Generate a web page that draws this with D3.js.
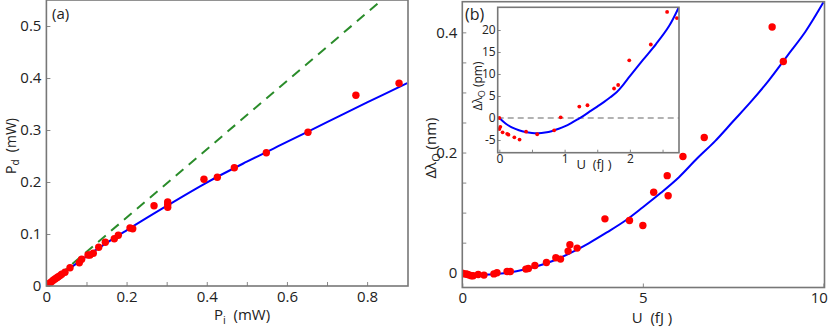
<!DOCTYPE html>
<html><head><meta charset="utf-8">
<script src="https://cdn.jsdelivr.net/npm/d3@7"></script>
<style>
body{margin:0;background:#fff;}
text{font-family:"Open Sans",sans-serif;fill:#222;}
</style></head>
<body><svg id="c" width="830" height="330"></svg>
<script>
// ---------- Panel (a) data ----------
const aPi = [0, 0.003, 0.005, 0.009, 0.013, 0.017, 0.0215, 0.026, 0.0297, 0.034, 0.0382, 0.0464, 0.0589, 0.0821, 0.088, 0.1038, 0.1088, 0.117, 0.1305, 0.147, 0.1694, 0.1794, 0.2086, 0.2153, 0.2685, 0.3026, 0.3026, 0.3026, 0.393, 0.4264, 0.4688, 0.5486, 0.6525, 0.772, 0.8797];
const aPd = [0, 0.002, 0.004, 0.006, 0.0085, 0.011, 0.0135, 0.016, 0.0179, 0.020, 0.0225, 0.0263, 0.0352, 0.0448, 0.0513, 0.0596, 0.0596, 0.0629, 0.0744, 0.084, 0.091, 0.0975, 0.1115, 0.110, 0.1544, 0.1615, 0.1565, 0.1513, 0.2052, 0.209, 0.2275, 0.2563, 0.2956, 0.3667, 0.3898];
const aFitX = [0, 0.1, 0.2, 0.3, 0.4, 0.5, 0.6, 0.7, 0.8, 0.9];
const aFitY = [0, 0.057, 0.107, 0.154, 0.199, 0.239, 0.277, 0.315, 0.353, 0.39];
const aLinX = [0, 0.837];
const aLinY = [0, 0.55];
const aXTicks = [0, 0.1, 0.2, 0.3, 0.4, 0.5, 0.6, 0.7, 0.8];
const aXLabels = [0, 0.2, 0.4, 0.6, 0.8];
const aYTicks = [0, 0.1, 0.2, 0.3, 0.4, 0.5];

// ---------- Panel (b) data ----------
const bU = [0, 0.05, 0.11, 0.15, 0.2, 0.25, 0.3, 0.44, 0.6, 0.875, 0.96, 1.24, 1.33, 1.76, 1.83, 2.01, 2.33, 2.59, 2.72, 2.93, 2.98, 3.18, 3.95, 4.63, 5.0, 5.3, 5.675, 5.70, 6.11, 6.70, 8.58, 8.89];
const bDL = [-0.001, -0.002, -0.002, -0.003, -0.004, -0.005, -0.005, -0.003, -0.004, -0.002, 0.0, 0.002, 0.002, 0.006, 0.007, 0.012, 0.017, 0.025, 0.0227, 0.036, 0.0465, 0.041, 0.0896, 0.0868, 0.0786, 0.134, 0.1615, 0.128, 0.1935, 0.225, 0.409, 0.3516];
const bFitX = [0, 0.5, 1, 1.5, 2, 2.5, 3, 3.5, 4, 4.5, 5, 5.5, 6, 6.5, 7, 7.5, 8, 8.5, 9, 9.5, 10];
const bFitY = [0, -0.0034, -0.0019, 0.0026, 0.0095, 0.0195, 0.033, 0.049, 0.067, 0.086, 0.109, 0.133, 0.159, 0.190, 0.219, 0.252, 0.285, 0.321, 0.361, 0.401, 0.45];
const bXTicks = [0, 5, 10];
const bYTicks = [0, 0.05, 0.1, 0.15, 0.2, 0.25, 0.3, 0.35, 0.4];
const bYLabels = [0, 0.2, 0.4];

// ---------- Inset data ----------
const iU = [0, 0.015, 0.0, 0.05, 0.12, 0.14, 0.23, 0.31, 0.41, 0.58, 0.84, 0.94, 1.225, 1.35, 1.757, 1.82, 1.99, 2.32, 2.57, 2.72];
const iDL = [0, -2.0, -2.5, -3.25, -3.6, -3.8, -4.4, -4.9, -3.1, -3.7, -2.8, 0.15, 2.6, 2.9, 6.7, 7.5, 13.1, 16.7, 24.1, 22.7];
const iFitX = [0, 0.1, 0.2, 0.3, 0.4, 0.5, 0.6, 0.7, 0.8, 0.9, 1.0, 1.1, 1.2, 1.3, 1.4, 1.5, 1.6, 1.7, 1.8, 1.9, 2.0, 2.2, 2.4, 2.6, 2.75];
const iFitY = [0, -1.3, -2.2, -2.8, -3.2, -3.4, -3.45, -3.3, -3.0, -2.5, -1.9, -1.15, -0.3, 0.6, 1.6, 2.6, 3.6, 4.7, 5.9, 7.6, 9.5, 13.2, 16.8, 20.9, 25.2];
const iXTicks = [0, 0.5, 1, 1.5, 2, 2.5];
const iXLabels = [0, 1, 2];
const iYTicks = [-5, 0, 5, 10, 15, 20];

const svg = d3.select("#c");
const frameCol = "#777";
const RED = "#ff0000", BLUE = "#0000ff", GREEN = "#2a8c2a";
const NB = "\u00a0";

function panel(opt) {
  const g = svg.append("g");
  const x = d3.scaleLinear().domain(opt.xd).range(opt.xr);
  const y = d3.scaleLinear().domain(opt.yd).range(opt.yr);
  const id = "clip" + opt.name;
  svg.append("clipPath").attr("id", id).append("rect")
    .attr("x", opt.xr[0]).attr("y", opt.yr[1]).attr("width", opt.xr[1] - opt.xr[0]).attr("height", opt.yr[0] - opt.yr[1]);
  if (opt.bg) g.append("rect").attr("x", opt.xr[0]).attr("y", opt.yr[1]).attr("width", opt.xr[1] - opt.xr[0]).attr("height", opt.yr[0] - opt.yr[1]).attr("fill", "#fff");
  const xa = d3.axisBottom(x).tickValues(opt.xt).tickSize(-opt.tick).tickPadding(opt.pad + opt.tick)
    .tickFormat(d => opt.xl.some(v => Math.abs(v - d) < 1e-9) ? String(d) : "");
  const ya = d3.axisLeft(y).tickValues(opt.yt).tickSize(-opt.tick).tickPadding(opt.pad + opt.tick)
    .tickFormat(d => opt.yl.some(v => Math.abs(v - d) < 1e-9) ? String(d) : "");
  const gx = g.append("g").attr("transform", `translate(0,${opt.yr[0]})`).call(xa);
  const gy = g.append("g").attr("transform", `translate(${opt.xr[0]},0)`).call(ya);
  [gx, gy].forEach(a => {
    a.select(".domain").remove();
    a.selectAll(".tick line").attr("stroke", "#888").attr("stroke-width", 1);
    a.selectAll(".tick text").attr("font-family", "Open Sans").attr("font-size", opt.fs).attr("fill", "#222");
  });
  return {g, gx, gy, x, y, clip: `url(#${id})`, opt};
}

function frame(p) {
  const o = p.opt;
  p.g.append("rect").attr("x", o.xr[0]).attr("y", o.yr[1]).attr("width", o.xr[1] - o.xr[0]).attr("height", o.yr[0] - o.yr[1])
    .attr("fill", "none").attr("stroke", frameCol).attr("stroke-width", 1.6);
}

function line(p, xs, ys, col, w, dash) {
  const pts = xs.map((v, i) => [v, ys[i]]);
  const l = d3.line().x(d => p.x(d[0])).y(d => p.y(d[1])).curve(d3.curveCatmullRom);
  const path = p.g.append("path").datum(pts).attr("d", l).attr("fill", "none").attr("stroke", col).attr("stroke-width", w).attr("clip-path", p.clip);
  if (dash) path.attr("stroke-dasharray", dash);
}

function dots(p, xs, ys, r) {
  p.g.append("g").attr("clip-path", p.clip).selectAll("circle").data(xs.map((v, i) => [v, ys[i]])).join("circle")
    .attr("cx", d => p.x(d[0])).attr("cy", d => p.y(d[1])).attr("r", r).attr("fill", RED);
}

// ---------- Panel (a) ----------
const pa = panel({name: "a", xd: [0, 0.902], xr: [46.4, 408], yd: [0, 0.55], yr: [286, 0], xt: aXTicks, xl: aXLabels, yt: aYTicks, yl: aYTicks,
  tick: 4, pad: 1, fs: 15});
line(pa, aLinX, aLinY, GREEN, 2, "10,7");
line(pa, aFitX, aFitY, BLUE, 2);
dots(pa, aPi, aPd, 3.7);
frame(pa);
svg.append("text").attr("x", 52).attr("y", 19).attr("font-size", 15).text("(a)");
const aYt = svg.append("text").attr("transform", "translate(16,146) rotate(-90)").attr("text-anchor", "middle").attr("font-size", 14);
aYt.append("tspan").text("P");
aYt.append("tspan").attr("font-size", 10).attr("dy", 3).text("d");
aYt.append("tspan").attr("dy", -3).text(NB + NB + "(mW)");
const aXt = svg.append("text").attr("x", 242).attr("y", 320).attr("text-anchor", "middle").attr("font-size", 15);
aXt.append("tspan").text("P");
aXt.append("tspan").attr("font-size", 11).attr("dy", 4).text("i");
aXt.append("tspan").attr("dy", -4).text(NB + NB + "(mW)");

// ---------- Panel (b) ----------
const pb = panel({name: "b", xd: [0, 10.03], xr: [462.3, 824.5], yd: [-0.0246, 0.451], yr: [287.5, 1.7], xt: bXTicks, xl: bXTicks, yt: bYTicks, yl: bYLabels,
  tick: 4, pad: 1, fs: 15});
pb.gx.selectAll(".tick text").filter(d => d === 10).attr("text-anchor", "end").attr("dx", 4);
line(pb, bFitX, bFitY, BLUE, 2);
dots(pb, bU, bDL, 3.7);
frame(pb);
const bYt = svg.append("text").attr("transform", "translate(436,148) rotate(-90)").attr("text-anchor", "middle").attr("font-size", 15);
bYt.append("tspan").text("Δλ");
bYt.append("tspan").attr("font-size", 11).attr("dy", 4).text("O");
bYt.append("tspan").attr("dy", -4).text(NB + "(nm)");
svg.append("text").attr("x", 652).attr("y", 323).attr("text-anchor", "middle").attr("font-size", 15).text("U" + NB + NB + "(fJ" + NB + ")");

// ---------- Inset ----------
const pi = panel({name: "i", xd: [-0.025, 2.752], xr: [497.7, 679], yd: [-7.89, 25.16], yr: [152.7, 7.3], xt: iXTicks, xl: iXLabels, yt: iYTicks, yl: iYTicks,
  tick: 3, pad: -1, fs: 12, bg: true});
pi.g.append("line").attr("x1", pi.x(-0.025)).attr("x2", pi.x(2.752)).attr("y1", pi.y(0)).attr("y2", pi.y(0))
  .attr("stroke", "#666").attr("stroke-width", 1.2).attr("stroke-dasharray", "6,4");
line(pi, iFitX, iFitY, BLUE, 2);
dots(pi, iU, iDL, 1.9);
frame(pi);
const iYt = svg.append("text").attr("transform", "translate(482,86) rotate(-90)").attr("text-anchor", "middle").attr("font-size", 12);
iYt.append("tspan").text("Δλ");
iYt.append("tspan").attr("font-size", 9).attr("dy", 3).text("O");
iYt.append("tspan").attr("dy", -3).text(NB + "(pm)");
svg.append("text").attr("x", 594).attr("y", 169).attr("text-anchor", "middle").attr("font-size", 13).text("U" + NB + NB + "(fJ" + NB + ")");
svg.append("text").attr("x", 465).attr("y", 20).attr("font-size", 16).text("(b)");
</script></body></html>
